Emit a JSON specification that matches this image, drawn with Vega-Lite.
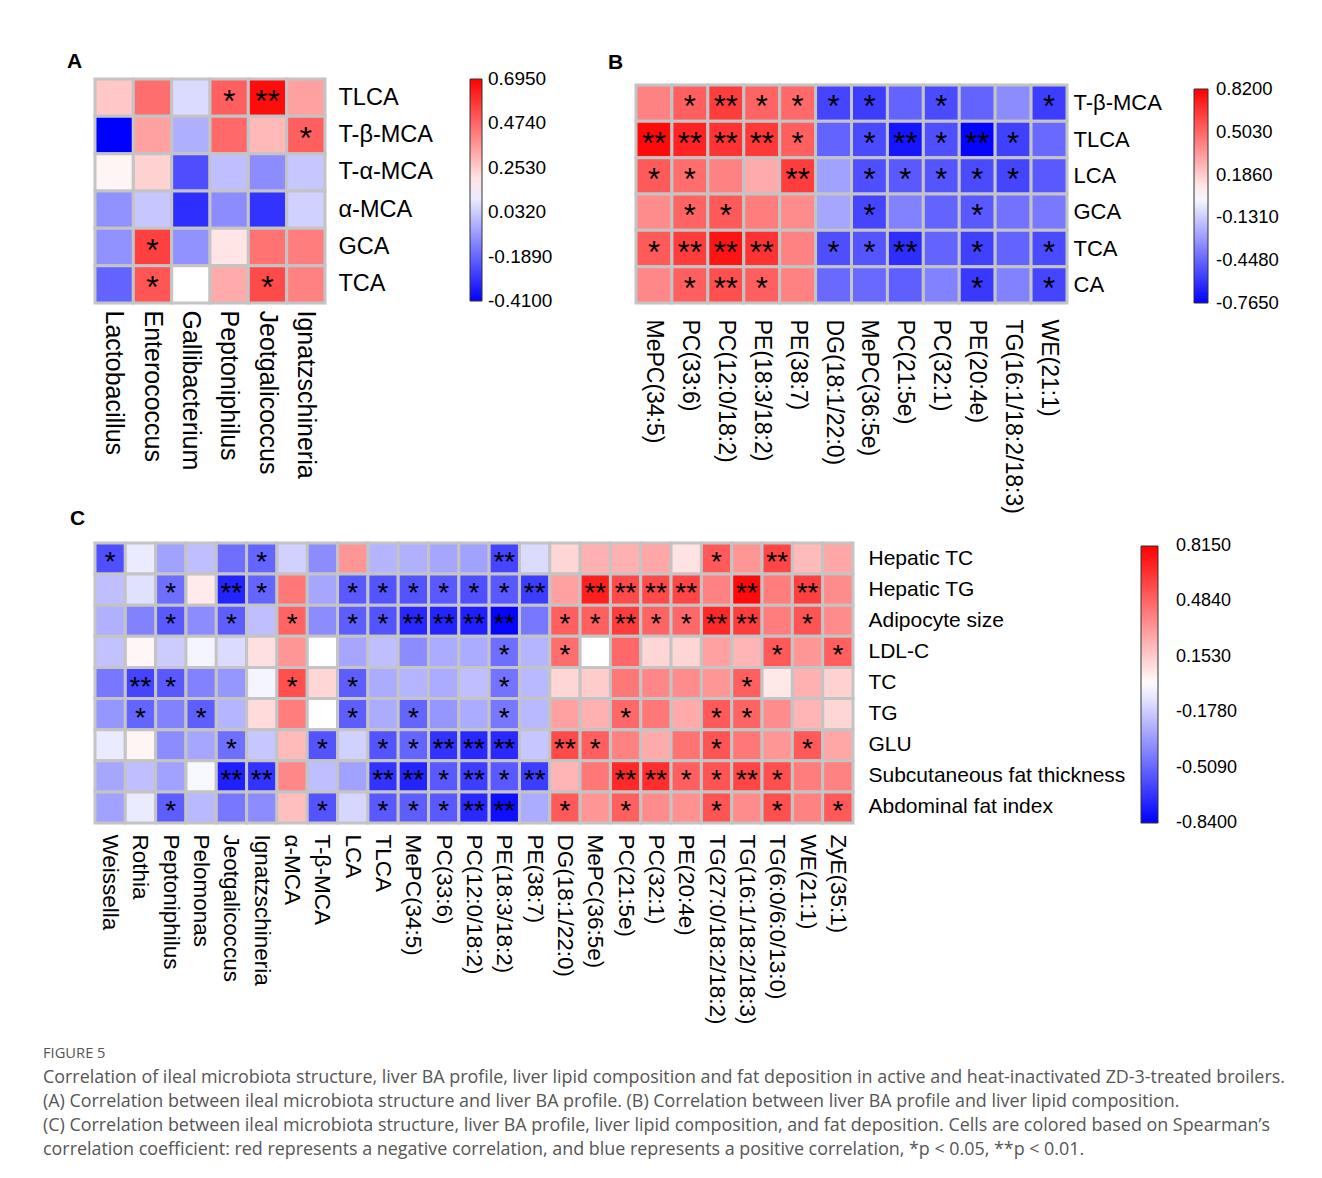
{
"$schema": "https://vega.github.io/schema/vega-lite/v6.json",
"background": "white",
"padding": {"left": 43, "top": 50, "right": 0, "bottom": 0},
"config": {
  "locale": {"number": {"decimal": ".", "thousands": ",", "grouping": [3], "currency": ["$", ""], "minus": "-"}},
  "view": {"stroke": null},
  "font": "Liberation Sans",
  "axis": {"labelFont": "Liberation Sans", "labelColor": "#000", "domain": false, "ticks": false, "title": null, "labelLimit": 600, "labelOverlap": false},
  "title": {"font": "Liberation Sans", "fontSize": 21, "fontWeight": "bold", "color": "#000"},
  "legend": {"orient": "none", "direction": "vertical", "title": null, "labelFont": "Liberation Sans", "labelColor": "#000", "gradientStrokeColor": "#333", "gradientStrokeWidth": 1, "labelOffset": 7}
},
"title": {
  "text": "FIGURE 5",
  "subtitle": [
    "Correlation of ileal microbiota structure, liver BA profile, liver lipid composition and fat deposition in active and heat-inactivated ZD-3-treated broilers.",
    "(A) Correlation between ileal microbiota structure and liver BA profile. (B) Correlation between liver BA profile and liver lipid composition.",
    "(C) Correlation between ileal microbiota structure, liver BA profile, liver lipid composition, and fat deposition. Cells are colored based on Spearman’s",
    "correlation coefficient: red represents a negative correlation, and blue represents a positive correlation, *p < 0.05, **p < 0.01."
  ],
  "orient": "bottom", "anchor": "start", "frame": "bounds", "dx": -24, "offset": 22,
  "font": "Open Sans", "fontSize": 14.7, "fontWeight": "normal", "color": "#555",
  "subtitleFont": "Open Sans", "subtitleFontSize": 17.9, "subtitleColor": "#555", "subtitleLineHeight": 24, "subtitlePadding": 8
},
"datasets": {
  "a": [
    {"r":"TLCA","c":"Lactobacillus","v":0.264},{"r":"TLCA","c":"Enterococcus","v":0.457},{"r":"TLCA","c":"Gallibacterium","v":0.065},{"r":"TLCA","c":"Peptoniphilus","v":0.49,"s":"*"},{"r":"TLCA","c":"Jeotgalicoccus","v":0.67,"s":"**"},{"r":"TLCA","c":"Ignatzschineria","v":0.347},
    {"r":"T-β-MCA","c":"Lactobacillus","v":-0.41},{"r":"T-β-MCA","c":"Enterococcus","v":0.347},{"r":"T-β-MCA","c":"Gallibacterium","v":-0.03},{"r":"T-β-MCA","c":"Peptoniphilus","v":0.468},{"r":"T-β-MCA","c":"Jeotgalicoccus","v":0.294},{"r":"T-β-MCA","c":"Ignatzschineria","v":0.49,"s":"*"},
    {"r":"T-α-MCA","c":"Lactobacillus","v":0.165},{"r":"T-α-MCA","c":"Enterococcus","v":0.24},{"r":"T-α-MCA","c":"Gallibacterium","v":-0.24},{"r":"T-α-MCA","c":"Peptoniphilus","v":0.004},{"r":"T-α-MCA","c":"Jeotgalicoccus","v":-0.106},{"r":"T-α-MCA","c":"Ignatzschineria","v":0.021},
    {"r":"α-MCA","c":"Lactobacillus","v":-0.095},{"r":"α-MCA","c":"Enterococcus","v":0.021},{"r":"α-MCA","c":"Gallibacterium","v":-0.31},{"r":"α-MCA","c":"Peptoniphilus","v":-0.106},{"r":"α-MCA","c":"Jeotgalicoccus","v":-0.3},{"r":"α-MCA","c":"Ignatzschineria","v":0.043},
    {"r":"GCA","c":"Lactobacillus","v":-0.095},{"r":"GCA","c":"Enterococcus","v":0.557,"s":"*"},{"r":"GCA","c":"Gallibacterium","v":-0.095},{"r":"GCA","c":"Peptoniphilus","v":0.198},{"r":"GCA","c":"Jeotgalicoccus","v":0.446},{"r":"GCA","c":"Ignatzschineria","v":0.424},
    {"r":"TCA","c":"Lactobacillus","v":-0.195},{"r":"TCA","c":"Enterococcus","v":0.51,"s":"*"},{"r":"TCA","c":"Gallibacterium","v":0.1425},{"r":"TCA","c":"Peptoniphilus","v":0.325},{"r":"TCA","c":"Jeotgalicoccus","v":0.535,"s":"*"},{"r":"TCA","c":"Ignatzschineria","v":0.413}
  ],
  "b": [
    {"r":"T-β-MCA","c":"MePC(34:5)","v":0.416},{"r":"T-β-MCA","c":"PC(33:6)","v":0.526,"s":"*"},{"r":"T-β-MCA","c":"PC(12:0/18:2)","v":0.63,"s":"**"},{"r":"T-β-MCA","c":"PE(18:3/18:2)","v":0.51,"s":"*"},{"r":"T-β-MCA","c":"PE(38:7)","v":0.495,"s":"*"},{"r":"T-β-MCA","c":"DG(18:1/22:0)","v":-0.55,"s":"*"},{"r":"T-β-MCA","c":"MePC(36:5e)","v":-0.575,"s":"*"},{"r":"T-β-MCA","c":"PC(21:5e)","v":-0.456},{"r":"T-β-MCA","c":"PC(32:1)","v":-0.535,"s":"*"},{"r":"T-β-MCA","c":"PE(20:4e)","v":-0.456},{"r":"T-β-MCA","c":"TG(16:1/18:2/18:3)","v":-0.33},{"r":"T-β-MCA","c":"WE(21:1)","v":-0.575,"s":"*"},
    {"r":"TLCA","c":"MePC(34:5)","v":0.788,"s":"**"},{"r":"TLCA","c":"PC(33:6)","v":0.71,"s":"**"},{"r":"TLCA","c":"PC(12:0/18:2)","v":0.66,"s":"**"},{"r":"TLCA","c":"PE(18:3/18:2)","v":0.646,"s":"**"},{"r":"TLCA","c":"PE(38:7)","v":0.526,"s":"*"},{"r":"TLCA","c":"DG(18:1/22:0)","v":-0.456},{"r":"TLCA","c":"MePC(36:5e)","v":-0.535,"s":"*"},{"r":"TLCA","c":"PC(21:5e)","v":-0.7,"s":"**"},{"r":"TLCA","c":"PC(32:1)","v":-0.52,"s":"*"},{"r":"TLCA","c":"PE(20:4e)","v":-0.75,"s":"**"},{"r":"TLCA","c":"TG(16:1/18:2/18:3)","v":-0.567,"s":"*"},{"r":"TLCA","c":"WE(21:1)","v":-0.44},
    {"r":"LCA","c":"MePC(34:5)","v":0.54,"s":"*"},{"r":"LCA","c":"PC(33:6)","v":0.48,"s":"*"},{"r":"LCA","c":"PC(12:0/18:2)","v":0.416},{"r":"LCA","c":"PE(18:3/18:2)","v":0.29},{"r":"LCA","c":"PE(38:7)","v":0.63,"s":"**"},{"r":"LCA","c":"DG(18:1/22:0)","v":-0.266},{"r":"LCA","c":"MePC(36:5e)","v":-0.52,"s":"*"},{"r":"LCA","c":"PC(21:5e)","v":-0.487,"s":"*"},{"r":"LCA","c":"PC(32:1)","v":-0.5,"s":"*"},{"r":"LCA","c":"PE(20:4e)","v":-0.535,"s":"*"},{"r":"LCA","c":"TG(16:1/18:2/18:3)","v":-0.55,"s":"*"},{"r":"LCA","c":"WE(21:1)","v":-0.487},
    {"r":"GCA","c":"MePC(34:5)","v":0.384},{"r":"GCA","c":"PC(33:6)","v":0.51,"s":"*"},{"r":"GCA","c":"PC(12:0/18:2)","v":0.54,"s":"*"},{"r":"GCA","c":"PE(18:3/18:2)","v":0.432},{"r":"GCA","c":"PE(38:7)","v":0.384},{"r":"GCA","c":"DG(18:1/22:0)","v":-0.25},{"r":"GCA","c":"MePC(36:5e)","v":-0.55,"s":"*"},{"r":"GCA","c":"PC(21:5e)","v":-0.36},{"r":"GCA","c":"PC(32:1)","v":-0.456},{"r":"GCA","c":"PE(20:4e)","v":-0.487,"s":"*"},{"r":"GCA","c":"TG(16:1/18:2/18:3)","v":-0.41},{"r":"GCA","c":"WE(21:1)","v":-0.39},
    {"r":"TCA","c":"MePC(34:5)","v":0.54,"s":"*"},{"r":"TCA","c":"PC(33:6)","v":0.63,"s":"**"},{"r":"TCA","c":"PC(12:0/18:2)","v":0.757,"s":"**"},{"r":"TCA","c":"PE(18:3/18:2)","v":0.66,"s":"**"},{"r":"TCA","c":"PE(38:7)","v":0.416},{"r":"TCA","c":"DG(18:1/22:0)","v":-0.52,"s":"*"},{"r":"TCA","c":"MePC(36:5e)","v":-0.5,"s":"*"},{"r":"TCA","c":"PC(21:5e)","v":-0.623,"s":"**"},{"r":"TCA","c":"PC(32:1)","v":-0.456},{"r":"TCA","c":"PE(20:4e)","v":-0.567,"s":"*"},{"r":"TCA","c":"TG(16:1/18:2/18:3)","v":-0.456},{"r":"TCA","c":"WE(21:1)","v":-0.535,"s":"*"},
    {"r":"CA","c":"MePC(34:5)","v":0.4},{"r":"CA","c":"PC(33:6)","v":0.526,"s":"*"},{"r":"CA","c":"PC(12:0/18:2)","v":0.574,"s":"**"},{"r":"CA","c":"PE(18:3/18:2)","v":0.526,"s":"*"},{"r":"CA","c":"PE(38:7)","v":0.416},{"r":"CA","c":"DG(18:1/22:0)","v":-0.44},{"r":"CA","c":"MePC(36:5e)","v":-0.44},{"r":"CA","c":"PC(21:5e)","v":-0.47},{"r":"CA","c":"PC(32:1)","v":-0.36},{"r":"CA","c":"PE(20:4e)","v":-0.59,"s":"*"},{"r":"CA","c":"TG(16:1/18:2/18:3)","v":-0.36},{"r":"CA","c":"WE(21:1)","v":-0.55,"s":"*"}
  ],
  "c": [
    {"r":"Hepatic TC","c":"Weissella","v":-0.583,"s":"*"},{"r":"Hepatic TC","c":"Rothia","v":-0.079},{"r":"Hepatic TC","c":"Peptoniphilus","v":-0.319},{"r":"Hepatic TC","c":"Pelomonas","v":-0.22},{"r":"Hepatic TC","c":"Jeotgalicoccus","v":-0.484},{"r":"Hepatic TC","c":"Ignatzschineria","v":-0.517,"s":"*"},{"r":"Hepatic TC","c":"α-MCA","v":-0.161},{"r":"Hepatic TC","c":"T-β-MCA","v":-0.385},{"r":"Hepatic TC","c":"LCA","v":0.327},{"r":"Hepatic TC","c":"TLCA","v":-0.253},{"r":"Hepatic TC","c":"MePC(34:5)","v":-0.269},{"r":"Hepatic TC","c":"PC(33:6)","v":-0.302},{"r":"Hepatic TC","c":"PC(12:0/18:2)","v":-0.319},{"r":"Hepatic TC","c":"PE(18:3/18:2)","v":-0.617,"s":"**"},{"r":"Hepatic TC","c":"PE(38:7)","v":-0.128},{"r":"Hepatic TC","c":"DG(18:1/22:0)","v":0.12},{"r":"Hepatic TC","c":"MePC(36:5e)","v":0.244},{"r":"Hepatic TC","c":"PC(21:5e)","v":0.244},{"r":"Hepatic TC","c":"PC(32:1)","v":0.277},{"r":"Hepatic TC","c":"PE(20:4e)","v":0.078},{"r":"Hepatic TC","c":"TG(27:0/18:2/18:2)","v":0.525,"s":"*"},{"r":"Hepatic TC","c":"TG(16:1/18:2/18:3)","v":0.327},{"r":"Hepatic TC","c":"TG(6:0/6:0/13:0)","v":0.591,"s":"**"},{"r":"Hepatic TC","c":"WE(21:1)","v":0.211},{"r":"Hepatic TC","c":"ZyE(35:1)","v":0.277},
    {"r":"Hepatic TG","c":"Weissella","v":-0.22},{"r":"Hepatic TG","c":"Rothia","v":-0.112},{"r":"Hepatic TG","c":"Peptoniphilus","v":-0.484,"s":"*"},{"r":"Hepatic TG","c":"Pelomonas","v":0.054},{"r":"Hepatic TG","c":"Jeotgalicoccus","v":-0.724,"s":"**"},{"r":"Hepatic TG","c":"Ignatzschineria","v":-0.517,"s":"*"},{"r":"Hepatic TG","c":"α-MCA","v":0.426},{"r":"Hepatic TG","c":"T-β-MCA","v":-0.302},{"r":"Hepatic TG","c":"LCA","v":-0.55,"s":"*"},{"r":"Hepatic TG","c":"TLCA","v":-0.567,"s":"*"},{"r":"Hepatic TG","c":"MePC(34:5)","v":-0.567,"s":"*"},{"r":"Hepatic TG","c":"PC(33:6)","v":-0.55,"s":"*"},{"r":"Hepatic TG","c":"PC(12:0/18:2)","v":-0.583,"s":"*"},{"r":"Hepatic TG","c":"PE(18:3/18:2)","v":-0.55,"s":"*"},{"r":"Hepatic TG","c":"PE(38:7)","v":-0.641,"s":"**"},{"r":"Hepatic TG","c":"DG(18:1/22:0)","v":0.294},{"r":"Hepatic TG","c":"MePC(36:5e)","v":0.716,"s":"**"},{"r":"Hepatic TG","c":"PC(21:5e)","v":0.575,"s":"**"},{"r":"Hepatic TG","c":"PC(32:1)","v":0.575,"s":"**"},{"r":"Hepatic TG","c":"PE(20:4e)","v":0.591,"s":"**"},{"r":"Hepatic TG","c":"TG(27:0/18:2/18:2)","v":0.393},{"r":"Hepatic TG","c":"TG(16:1/18:2/18:3)","v":0.782,"s":"**"},{"r":"Hepatic TG","c":"TG(6:0/6:0/13:0)","v":0.41},{"r":"Hepatic TG","c":"WE(21:1)","v":0.608,"s":"**"},{"r":"Hepatic TG","c":"ZyE(35:1)","v":0.36},
    {"r":"Adipocyte size","c":"Weissella","v":-0.269},{"r":"Adipocyte size","c":"Rothia","v":-0.418},{"r":"Adipocyte size","c":"Peptoniphilus","v":-0.55,"s":"*"},{"r":"Adipocyte size","c":"Pelomonas","v":-0.385},{"r":"Adipocyte size","c":"Jeotgalicoccus","v":-0.534,"s":"*"},{"r":"Adipocyte size","c":"Ignatzschineria","v":-0.22},{"r":"Adipocyte size","c":"α-MCA","v":0.492,"s":"*"},{"r":"Adipocyte size","c":"T-β-MCA","v":-0.385},{"r":"Adipocyte size","c":"LCA","v":-0.534,"s":"*"},{"r":"Adipocyte size","c":"TLCA","v":-0.567,"s":"*"},{"r":"Adipocyte size","c":"MePC(34:5)","v":-0.708,"s":"**"},{"r":"Adipocyte size","c":"PC(33:6)","v":-0.724,"s":"**"},{"r":"Adipocyte size","c":"PC(12:0/18:2)","v":-0.741,"s":"**"},{"r":"Adipocyte size","c":"PE(18:3/18:2)","v":-0.823,"s":"**"},{"r":"Adipocyte size","c":"PE(38:7)","v":-0.451},{"r":"Adipocyte size","c":"DG(18:1/22:0)","v":0.508,"s":"*"},{"r":"Adipocyte size","c":"MePC(36:5e)","v":0.508,"s":"*"},{"r":"Adipocyte size","c":"PC(21:5e)","v":0.616,"s":"**"},{"r":"Adipocyte size","c":"PC(32:1)","v":0.492,"s":"*"},{"r":"Adipocyte size","c":"PE(20:4e)","v":0.476,"s":"*"},{"r":"Adipocyte size","c":"TG(27:0/18:2/18:2)","v":0.683,"s":"**"},{"r":"Adipocyte size","c":"TG(16:1/18:2/18:3)","v":0.616,"s":"**"},{"r":"Adipocyte size","c":"TG(6:0/6:0/13:0)","v":0.41},{"r":"Adipocyte size","c":"WE(21:1)","v":0.542,"s":"*"},{"r":"Adipocyte size","c":"ZyE(35:1)","v":0.36},
    {"r":"LDL-C","c":"Weissella","v":-0.211},{"r":"LDL-C","c":"Rothia","v":0.012},{"r":"LDL-C","c":"Peptoniphilus","v":-0.178},{"r":"LDL-C","c":"Pelomonas","v":-0.046},{"r":"LDL-C","c":"Jeotgalicoccus","v":-0.128},{"r":"LDL-C","c":"Ignatzschineria","v":0.087},{"r":"LDL-C","c":"α-MCA","v":0.327},{"r":"LDL-C","c":"T-β-MCA","v":-0.0125},{"r":"LDL-C","c":"LCA","v":-0.302},{"r":"LDL-C","c":"TLCA","v":-0.22},{"r":"LDL-C","c":"MePC(34:5)","v":-0.385},{"r":"LDL-C","c":"PC(33:6)","v":-0.286},{"r":"LDL-C","c":"PC(12:0/18:2)","v":-0.286},{"r":"LDL-C","c":"PE(18:3/18:2)","v":-0.484,"s":"*"},{"r":"LDL-C","c":"PE(38:7)","v":-0.253},{"r":"LDL-C","c":"DG(18:1/22:0)","v":0.459,"s":"*"},{"r":"LDL-C","c":"MePC(36:5e)","v":-0.0125},{"r":"LDL-C","c":"PC(21:5e)","v":0.476},{"r":"LDL-C","c":"PC(32:1)","v":0.12},{"r":"LDL-C","c":"PE(20:4e)","v":0.12},{"r":"LDL-C","c":"TG(27:0/18:2/18:2)","v":0.294},{"r":"LDL-C","c":"TG(16:1/18:2/18:3)","v":0.228},{"r":"LDL-C","c":"TG(6:0/6:0/13:0)","v":0.525,"s":"*"},{"r":"LDL-C","c":"WE(21:1)","v":0.327},{"r":"LDL-C","c":"ZyE(35:1)","v":0.508,"s":"*"},
    {"r":"TC","c":"Weissella","v":-0.451},{"r":"TC","c":"Rothia","v":-0.617,"s":"**"},{"r":"TC","c":"Peptoniphilus","v":-0.55,"s":"*"},{"r":"TC","c":"Pelomonas","v":-0.418},{"r":"TC","c":"Jeotgalicoccus","v":-0.352},{"r":"TC","c":"Ignatzschineria","v":-0.046},{"r":"TC","c":"α-MCA","v":0.558,"s":"*"},{"r":"TC","c":"T-β-MCA","v":0.12},{"r":"TC","c":"LCA","v":-0.534,"s":"*"},{"r":"TC","c":"TLCA","v":-0.286},{"r":"TC","c":"MePC(34:5)","v":-0.253},{"r":"TC","c":"PC(33:6)","v":-0.286},{"r":"TC","c":"PC(12:0/18:2)","v":-0.22},{"r":"TC","c":"PE(18:3/18:2)","v":-0.468,"s":"*"},{"r":"TC","c":"PE(38:7)","v":-0.24},{"r":"TC","c":"DG(18:1/22:0)","v":0.12},{"r":"TC","c":"MePC(36:5e)","v":0.153},{"r":"TC","c":"PC(21:5e)","v":0.426},{"r":"TC","c":"PC(32:1)","v":0.376},{"r":"TC","c":"PE(20:4e)","v":0.36},{"r":"TC","c":"TG(27:0/18:2/18:2)","v":0.327},{"r":"TC","c":"TG(16:1/18:2/18:3)","v":0.508,"s":"*"},{"r":"TC","c":"TG(6:0/6:0/13:0)","v":0.062},{"r":"TC","c":"WE(21:1)","v":0.244},{"r":"TC","c":"ZyE(35:1)","v":0.133},
    {"r":"TG","c":"Weissella","v":-0.352},{"r":"TG","c":"Rothia","v":-0.517,"s":"*"},{"r":"TG","c":"Peptoniphilus","v":-0.418},{"r":"TG","c":"Pelomonas","v":-0.534,"s":"*"},{"r":"TG","c":"Jeotgalicoccus","v":-0.253},{"r":"TG","c":"Ignatzschineria","v":0.103},{"r":"TG","c":"α-MCA","v":0.41},{"r":"TG","c":"T-β-MCA","v":-0.0125},{"r":"TG","c":"LCA","v":-0.534,"s":"*"},{"r":"TG","c":"TLCA","v":-0.286},{"r":"TG","c":"MePC(34:5)","v":-0.517,"s":"*"},{"r":"TG","c":"PC(33:6)","v":-0.352},{"r":"TG","c":"PC(12:0/18:2)","v":-0.286},{"r":"TG","c":"PE(18:3/18:2)","v":-0.451,"s":"*"},{"r":"TG","c":"PE(38:7)","v":-0.24},{"r":"TG","c":"DG(18:1/22:0)","v":0.294},{"r":"TG","c":"MePC(36:5e)","v":0.244},{"r":"TG","c":"PC(21:5e)","v":0.476,"s":"*"},{"r":"TG","c":"PC(32:1)","v":0.426},{"r":"TG","c":"PE(20:4e)","v":0.261},{"r":"TG","c":"TG(27:0/18:2/18:2)","v":0.525,"s":"*"},{"r":"TG","c":"TG(16:1/18:2/18:3)","v":0.492,"s":"*"},{"r":"TG","c":"TG(6:0/6:0/13:0)","v":0.36},{"r":"TG","c":"WE(21:1)","v":0.228},{"r":"TG","c":"ZyE(35:1)","v":0.12},
    {"r":"GLU","c":"Weissella","v":-0.079},{"r":"GLU","c":"Rothia","v":0.02},{"r":"GLU","c":"Peptoniphilus","v":-0.385},{"r":"GLU","c":"Pelomonas","v":-0.302},{"r":"GLU","c":"Jeotgalicoccus","v":-0.484,"s":"*"},{"r":"GLU","c":"Ignatzschineria","v":-0.195},{"r":"GLU","c":"α-MCA","v":0.211},{"r":"GLU","c":"T-β-MCA","v":-0.567,"s":"*"},{"r":"GLU","c":"LCA","v":-0.161},{"r":"GLU","c":"TLCA","v":-0.567,"s":"*"},{"r":"GLU","c":"MePC(34:5)","v":-0.517,"s":"*"},{"r":"GLU","c":"PC(33:6)","v":-0.675,"s":"**"},{"r":"GLU","c":"PC(12:0/18:2)","v":-0.708,"s":"**"},{"r":"GLU","c":"PE(18:3/18:2)","v":-0.708,"s":"**"},{"r":"GLU","c":"PE(38:7)","v":-0.195},{"r":"GLU","c":"DG(18:1/22:0)","v":0.575,"s":"**"},{"r":"GLU","c":"MePC(36:5e)","v":0.508,"s":"*"},{"r":"GLU","c":"PC(21:5e)","v":0.393},{"r":"GLU","c":"PC(32:1)","v":0.261},{"r":"GLU","c":"PE(20:4e)","v":0.443},{"r":"GLU","c":"TG(27:0/18:2/18:2)","v":0.542,"s":"*"},{"r":"GLU","c":"TG(16:1/18:2/18:3)","v":0.426},{"r":"GLU","c":"TG(6:0/6:0/13:0)","v":0.327},{"r":"GLU","c":"WE(21:1)","v":0.525,"s":"*"},{"r":"GLU","c":"ZyE(35:1)","v":0.277},
    {"r":"Subcutaneous fat thickness","c":"Weissella","v":-0.302},{"r":"Subcutaneous fat thickness","c":"Rothia","v":-0.22},{"r":"Subcutaneous fat thickness","c":"Peptoniphilus","v":-0.319},{"r":"Subcutaneous fat thickness","c":"Pelomonas","v":-0.035},{"r":"Subcutaneous fat thickness","c":"Jeotgalicoccus","v":-0.741,"s":"**"},{"r":"Subcutaneous fat thickness","c":"Ignatzschineria","v":-0.675,"s":"**"},{"r":"Subcutaneous fat thickness","c":"α-MCA","v":0.376},{"r":"Subcutaneous fat thickness","c":"T-β-MCA","v":-0.22},{"r":"Subcutaneous fat thickness","c":"LCA","v":-0.319},{"r":"Subcutaneous fat thickness","c":"TLCA","v":-0.675,"s":"**"},{"r":"Subcutaneous fat thickness","c":"MePC(34:5)","v":-0.724,"s":"**"},{"r":"Subcutaneous fat thickness","c":"PC(33:6)","v":-0.55,"s":"*"},{"r":"Subcutaneous fat thickness","c":"PC(12:0/18:2)","v":-0.641,"s":"**"},{"r":"Subcutaneous fat thickness","c":"PE(18:3/18:2)","v":-0.55,"s":"*"},{"r":"Subcutaneous fat thickness","c":"PE(38:7)","v":-0.641,"s":"**"},{"r":"Subcutaneous fat thickness","c":"DG(18:1/22:0)","v":0.228},{"r":"Subcutaneous fat thickness","c":"MePC(36:5e)","v":0.426},{"r":"Subcutaneous fat thickness","c":"PC(21:5e)","v":0.683,"s":"**"},{"r":"Subcutaneous fat thickness","c":"PC(32:1)","v":0.666,"s":"**"},{"r":"Subcutaneous fat thickness","c":"PE(20:4e)","v":0.508,"s":"*"},{"r":"Subcutaneous fat thickness","c":"TG(27:0/18:2/18:2)","v":0.542,"s":"*"},{"r":"Subcutaneous fat thickness","c":"TG(16:1/18:2/18:3)","v":0.591,"s":"**"},{"r":"Subcutaneous fat thickness","c":"TG(6:0/6:0/13:0)","v":0.558,"s":"*"},{"r":"Subcutaneous fat thickness","c":"WE(21:1)","v":0.41},{"r":"Subcutaneous fat thickness","c":"ZyE(35:1)","v":0.393},
    {"r":"Abdominal fat index","c":"Weissella","v":-0.319},{"r":"Abdominal fat index","c":"Rothia","v":-0.079},{"r":"Abdominal fat index","c":"Peptoniphilus","v":-0.534,"s":"*"},{"r":"Abdominal fat index","c":"Pelomonas","v":-0.24},{"r":"Abdominal fat index","c":"Jeotgalicoccus","v":-0.451},{"r":"Abdominal fat index","c":"Ignatzschineria","v":-0.385},{"r":"Abdominal fat index","c":"α-MCA","v":0.194},{"r":"Abdominal fat index","c":"T-β-MCA","v":-0.567,"s":"*"},{"r":"Abdominal fat index","c":"LCA","v":-0.145},{"r":"Abdominal fat index","c":"TLCA","v":-0.55,"s":"*"},{"r":"Abdominal fat index","c":"MePC(34:5)","v":-0.534,"s":"*"},{"r":"Abdominal fat index","c":"PC(33:6)","v":-0.55,"s":"*"},{"r":"Abdominal fat index","c":"PC(12:0/18:2)","v":-0.708,"s":"**"},{"r":"Abdominal fat index","c":"PE(18:3/18:2)","v":-0.79,"s":"**"},{"r":"Abdominal fat index","c":"PE(38:7)","v":-0.286},{"r":"Abdominal fat index","c":"DG(18:1/22:0)","v":0.525,"s":"*"},{"r":"Abdominal fat index","c":"MePC(36:5e)","v":0.327},{"r":"Abdominal fat index","c":"PC(21:5e)","v":0.508,"s":"*"},{"r":"Abdominal fat index","c":"PC(32:1)","v":0.36},{"r":"Abdominal fat index","c":"PE(20:4e)","v":0.343},{"r":"Abdominal fat index","c":"TG(27:0/18:2/18:2)","v":0.542,"s":"*"},{"r":"Abdominal fat index","c":"TG(16:1/18:2/18:3)","v":0.36},{"r":"Abdominal fat index","c":"TG(6:0/6:0/13:0)","v":0.558,"s":"*"},{"r":"Abdominal fat index","c":"WE(21:1)","v":0.393},{"r":"Abdominal fat index","c":"ZyE(35:1)","v":0.525,"s":"*"}
  ]
},
"resolve": {"scale": {"color": "independent"}, "legend": {"color": "independent"}},
"columns": 1,
"align": "none",
"spacing": -7,
"concat": [
  {
    "columns": 2,
    "align": "none",
    "spacing": 55,
    "resolve": {"scale": {"color": "independent"}, "legend": {"color": "independent"}},
    "concat": [
      {
        "width": 230, "height": 224,
        "title": {"text": "A", "anchor": "start", "frame": "group", "dx": -28, "offset": 6},
        "data": {"name": "a"},
        "encoding": {
          "x": {"field": "c", "type": "nominal", "sort": ["Lactobacillus","Enterococcus","Gallibacterium","Peptoniphilus","Jeotgalicoccus","Ignatzschineria"], "scale": {"paddingInner": 0, "paddingOuter": 0}, "axis": {"labelAngle": 90, "labelFontSize": 25, "labelPadding": 7}},
          "y": {"field": "r", "type": "nominal", "sort": ["TLCA","T-β-MCA","T-α-MCA","α-MCA","GCA","TCA"], "scale": {"paddingInner": 0, "paddingOuter": 0}, "axis": {"orient": "right", "labelFontSize": 23.5, "labelPadding": 13}}
        },
        "layer": [
          {"mark": {"type": "rect", "stroke": "#c4c4c4", "strokeWidth": 3},
           "encoding": {"color": {"field": "v", "type": "quantitative",
             "scale": {"domain": [-0.41, 0.1425, 0.695], "range": ["#0000ff", "#ffffff", "#ff0000"], "interpolate": "rgb"},
             "legend": {"legendX": 375, "legendY": 0, "gradientLength": 222, "gradientThickness": 12, "labelFontSize": 19, "labelOffset": 6, "format": ".4f", "values": [-0.40999, -0.189, 0.032, 0.253, 0.474, 0.69499]}}}},
          {"transform": [{"filter": "isValid(datum.s)"}],
           "mark": {"type": "text", "fontSize": 32, "baseline": "alphabetic", "dy": 14, "color": "#000"},
           "encoding": {"text": {"field": "s", "type": "nominal"}}}
        ]
      },
      {
        "width": 431, "height": 224,
        "title": {"text": "B", "anchor": "start", "frame": "group", "dx": -28, "offset": 6},
        "data": {"name": "b"},
        "encoding": {
          "x": {"field": "c", "type": "nominal", "sort": ["MePC(34:5)","PC(33:6)","PC(12:0/18:2)","PE(18:3/18:2)","PE(38:7)","DG(18:1/22:0)","MePC(36:5e)","PC(21:5e)","PC(32:1)","PE(20:4e)","TG(16:1/18:2/18:3)","WE(21:1)"], "scale": {"paddingInner": 0, "paddingOuter": 0}, "axis": {"labelAngle": 90, "labelFontSize": 23, "labelPadding": 16}},
          "y": {"field": "r", "type": "nominal", "sort": ["T-β-MCA","TLCA","LCA","GCA","TCA","CA"], "scale": {"paddingInner": 0, "paddingOuter": 0, "range": [6, 224]}, "axis": {"orient": "right", "labelFontSize": 22, "labelPadding": 6}}
        },
        "layer": [
          {"mark": {"type": "rect", "stroke": "#c4c4c4", "strokeWidth": 3},
           "encoding": {"color": {"field": "v", "type": "quantitative",
             "scale": {"domain": [-0.765, 0.0275, 0.82], "range": ["#0000ff", "#ffffff", "#ff0000"], "interpolate": "rgb"},
             "legend": {"legendX": 558, "legendY": 10, "gradientLength": 214, "gradientThickness": 14, "labelFontSize": 18.5, "labelOffset": 8, "format": ".4f", "values": [-0.76499, -0.448, -0.131, 0.186, 0.503, 0.81999]}}}},
          {"transform": [{"filter": "isValid(datum.s)"}],
           "mark": {"type": "text", "fontSize": 31, "baseline": "alphabetic", "dy": 14, "color": "#000"},
           "encoding": {"text": {"field": "s", "type": "nominal"}}}
        ]
      }
    ]
  },
  {
    "width": 758, "height": 280,
    "title": {"text": "C", "anchor": "start", "frame": "group", "dx": -25, "offset": 13},
    "data": {"name": "c"},
    "encoding": {
      "x": {"field": "c", "type": "nominal", "sort": ["Weissella","Rothia","Peptoniphilus","Pelomonas","Jeotgalicoccus","Ignatzschineria","α-MCA","T-β-MCA","LCA","TLCA","MePC(34:5)","PC(33:6)","PC(12:0/18:2)","PE(18:3/18:2)","PE(38:7)","DG(18:1/22:0)","MePC(36:5e)","PC(21:5e)","PC(32:1)","PE(20:4e)","TG(27:0/18:2/18:2)","TG(16:1/18:2/18:3)","TG(6:0/6:0/13:0)","WE(21:1)","ZyE(35:1)"], "scale": {"paddingInner": 0, "paddingOuter": 0}, "axis": {"labelAngle": 90, "labelFontSize": 22.5, "labelPadding": 11}},
      "y": {"field": "r", "type": "nominal", "sort": ["Hepatic TC","Hepatic TG","Adipocyte size","LDL-C","TC","TG","GLU","Subcutaneous fat thickness","Abdominal fat index"], "scale": {"paddingInner": 0, "paddingOuter": 0}, "axis": {"orient": "right", "labelFontSize": 21, "labelPadding": 15}}
    },
    "layer": [
      {"mark": {"type": "rect", "stroke": "#c4c4c4", "strokeWidth": 3},
       "encoding": {"color": {"field": "v", "type": "quantitative",
         "scale": {"domain": [-0.84, -0.0125, 0.815], "range": ["#0000ff", "#ffffff", "#ff0000"], "interpolate": "rgb"},
         "legend": {"legendX": 1046, "legendY": 3, "gradientLength": 277, "gradientThickness": 17, "labelFontSize": 18, "labelOffset": 18, "format": ".4f", "values": [-0.83999, -0.509, -0.178, 0.153, 0.484, 0.81499]}}}},
      {"transform": [{"filter": "isValid(datum.s)"}],
       "mark": {"type": "text", "fontSize": 28, "baseline": "alphabetic", "dy": 12.5, "color": "#000"},
       "encoding": {"text": {"field": "s", "type": "nominal"}}}
    ]
  }
]
}
